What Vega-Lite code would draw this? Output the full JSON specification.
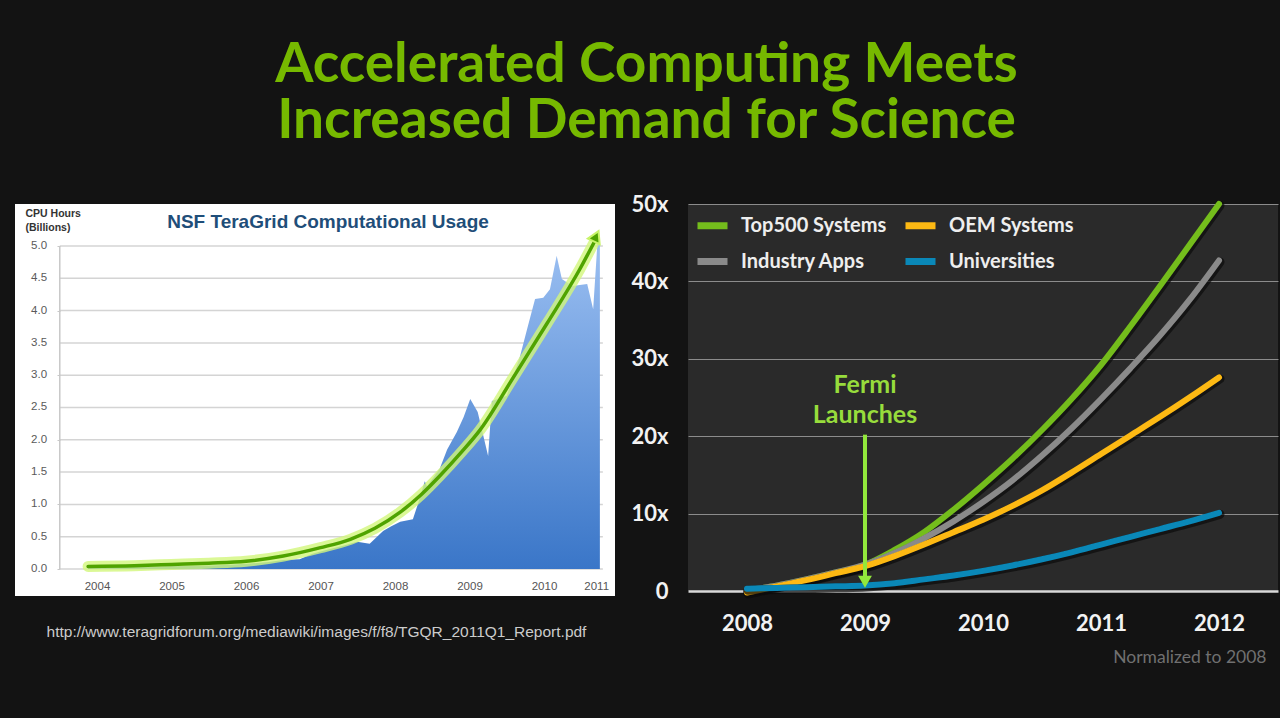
{
  "$schema": "https://vega.github.io/schema/vega-lite/v6.json",
  "background": "#131313",
  "padding": {"left": 15, "top": 37, "right": 2, "bottom": 52},
  "title": {
    "text": ["Accelerated Computing Meets", "Increased Demand for Science"],
    "font": "Lato",
    "fontSize": 55,
    "fontWeight": "bold",
    "color": "#76b900",
    "lineHeight": 56,
    "anchor": "middle",
    "frame": "bounds",
    "offset": 38
  },
  "config": {"view": {"stroke": null}, "font": "Lato", "axis": {"labelOverlap": false}},
  "resolve": {"scale": {"color": "independent"}, "legend": {"color": "independent"}},
  "spacing": 73,
  "bounds": "flush",
  "datasets": {
    "usage": [
      {"year": 2004.38, "cpu": 0.02}, {"year": 2004.7, "cpu": 0.03}, {"year": 2005.0, "cpu": 0.03},
      {"year": 2005.3, "cpu": 0.04}, {"year": 2005.6, "cpu": 0.05}, {"year": 2005.9, "cpu": 0.05},
      {"year": 2006.2, "cpu": 0.06}, {"year": 2006.5, "cpu": 0.08}, {"year": 2006.8, "cpu": 0.11},
      {"year": 2007.0, "cpu": 0.14}, {"year": 2007.22, "cpu": 0.15}, {"year": 2007.4, "cpu": 0.24},
      {"year": 2007.6, "cpu": 0.3}, {"year": 2007.8, "cpu": 0.36}, {"year": 2007.99, "cpu": 0.42},
      {"year": 2008.16, "cpu": 0.39}, {"year": 2008.34, "cpu": 0.59}, {"year": 2008.45, "cpu": 0.66},
      {"year": 2008.57, "cpu": 0.73}, {"year": 2008.74, "cpu": 0.77}, {"year": 2008.8, "cpu": 0.98},
      {"year": 2008.9, "cpu": 1.36}, {"year": 2008.93, "cpu": 1.28}, {"year": 2009.1, "cpu": 1.55},
      {"year": 2009.2, "cpu": 1.85}, {"year": 2009.33, "cpu": 2.12}, {"year": 2009.42, "cpu": 2.35},
      {"year": 2009.51, "cpu": 2.63}, {"year": 2009.61, "cpu": 2.43}, {"year": 2009.75, "cpu": 1.75},
      {"year": 2009.8, "cpu": 2.6}, {"year": 2010.0, "cpu": 2.68}, {"year": 2010.18, "cpu": 3.3},
      {"year": 2010.27, "cpu": 3.7}, {"year": 2010.38, "cpu": 4.18}, {"year": 2010.49, "cpu": 4.2},
      {"year": 2010.58, "cpu": 4.33}, {"year": 2010.67, "cpu": 4.85}, {"year": 2010.74, "cpu": 4.49},
      {"year": 2010.88, "cpu": 4.38}, {"year": 2011.08, "cpu": 4.41}, {"year": 2011.16, "cpu": 4.02},
      {"year": 2011.22, "cpu": 5.1}, {"year": 2011.25, "cpu": 5.1}
    ],
    "trend": [
      {"year": 2004.38, "value": 0.04}, {"year": 2005.0, "value": 0.05}, {"year": 2005.5, "value": 0.07},
      {"year": 2006.0, "value": 0.09}, {"year": 2006.5, "value": 0.12}, {"year": 2007.0, "value": 0.2},
      {"year": 2007.5, "value": 0.33}, {"year": 2007.9, "value": 0.46}, {"year": 2008.23, "value": 0.63},
      {"year": 2008.57, "value": 0.88}, {"year": 2008.85, "value": 1.15}, {"year": 2009.1, "value": 1.44},
      {"year": 2009.4, "value": 1.82}, {"year": 2009.64, "value": 2.15}, {"year": 2010.08, "value": 2.95},
      {"year": 2010.54, "value": 3.8}, {"year": 2010.98, "value": 4.64}, {"year": 2011.17, "value": 5.05}
    ],
    "trendTip": [{"year": 2011.2, "value": 5.15}],
    "usageTicks": [
      {"v": 0.0}, {"v": 0.5}, {"v": 1.0}, {"v": 1.5}, {"v": 2.0}, {"v": 2.5},
      {"v": 3.0}, {"v": 3.5}, {"v": 4.0}, {"v": 4.5}, {"v": 5.0}
    ],
    "growth": [
      {"series": "Top500 Systems", "year": 2008, "x": 0.1}, {"series": "Top500 Systems", "year": 2008.25, "x": 0.7},
      {"series": "Top500 Systems", "year": 2008.5, "x": 1.5}, {"series": "Top500 Systems", "year": 2008.75, "x": 2.4},
      {"series": "Top500 Systems", "year": 2009, "x": 3.4}, {"series": "Top500 Systems", "year": 2009.25, "x": 5.3},
      {"series": "Top500 Systems", "year": 2009.5, "x": 7.6}, {"series": "Top500 Systems", "year": 2009.75, "x": 10.5},
      {"series": "Top500 Systems", "year": 2010, "x": 13.7}, {"series": "Top500 Systems", "year": 2010.25, "x": 17.1},
      {"series": "Top500 Systems", "year": 2010.5, "x": 20.8}, {"series": "Top500 Systems", "year": 2010.75, "x": 24.8},
      {"series": "Top500 Systems", "year": 2011, "x": 29.2}, {"series": "Top500 Systems", "year": 2011.25, "x": 34.2},
      {"series": "Top500 Systems", "year": 2011.5, "x": 39.4}, {"series": "Top500 Systems", "year": 2011.75, "x": 44.7},
      {"series": "Top500 Systems", "year": 2012, "x": 50.0},
      {"series": "Industry Apps", "year": 2008, "x": 0.1}, {"series": "Industry Apps", "year": 2008.25, "x": 0.7},
      {"series": "Industry Apps", "year": 2008.5, "x": 1.5}, {"series": "Industry Apps", "year": 2008.75, "x": 2.4},
      {"series": "Industry Apps", "year": 2009, "x": 3.4}, {"series": "Industry Apps", "year": 2009.25, "x": 4.9},
      {"series": "Industry Apps", "year": 2009.5, "x": 6.8}, {"series": "Industry Apps", "year": 2009.75, "x": 9.0},
      {"series": "Industry Apps", "year": 2010, "x": 11.5}, {"series": "Industry Apps", "year": 2010.25, "x": 14.3},
      {"series": "Industry Apps", "year": 2010.5, "x": 17.5}, {"series": "Industry Apps", "year": 2010.75, "x": 21.0},
      {"series": "Industry Apps", "year": 2011, "x": 24.8}, {"series": "Industry Apps", "year": 2011.25, "x": 28.8},
      {"series": "Industry Apps", "year": 2011.5, "x": 33.0}, {"series": "Industry Apps", "year": 2011.75, "x": 37.6},
      {"series": "Industry Apps", "year": 2012, "x": 42.7},
      {"series": "OEM Systems", "year": 2008, "x": -0.2}, {"series": "OEM Systems", "year": 2008.25, "x": 0.6},
      {"series": "OEM Systems", "year": 2008.5, "x": 1.4}, {"series": "OEM Systems", "year": 2008.75, "x": 2.3},
      {"series": "OEM Systems", "year": 2009, "x": 3.2}, {"series": "OEM Systems", "year": 2009.25, "x": 4.5},
      {"series": "OEM Systems", "year": 2009.5, "x": 6.0}, {"series": "OEM Systems", "year": 2009.75, "x": 7.6},
      {"series": "OEM Systems", "year": 2010, "x": 9.2}, {"series": "OEM Systems", "year": 2010.25, "x": 11.0},
      {"series": "OEM Systems", "year": 2010.5, "x": 13.0}, {"series": "OEM Systems", "year": 2010.75, "x": 15.3},
      {"series": "OEM Systems", "year": 2011, "x": 17.7}, {"series": "OEM Systems", "year": 2011.25, "x": 20.1},
      {"series": "OEM Systems", "year": 2011.5, "x": 22.5}, {"series": "OEM Systems", "year": 2011.75, "x": 25.0},
      {"series": "OEM Systems", "year": 2012, "x": 27.6},
      {"series": "Universities", "year": 2008, "x": 0.3}, {"series": "Universities", "year": 2008.25, "x": 0.4},
      {"series": "Universities", "year": 2008.5, "x": 0.5}, {"series": "Universities", "year": 2008.75, "x": 0.6},
      {"series": "Universities", "year": 2009, "x": 0.7}, {"series": "Universities", "year": 2009.25, "x": 1.0},
      {"series": "Universities", "year": 2009.5, "x": 1.5}, {"series": "Universities", "year": 2009.75, "x": 2.0},
      {"series": "Universities", "year": 2010, "x": 2.6}, {"series": "Universities", "year": 2010.25, "x": 3.3},
      {"series": "Universities", "year": 2010.5, "x": 4.1}, {"series": "Universities", "year": 2010.75, "x": 5.0},
      {"series": "Universities", "year": 2011, "x": 6.0}, {"series": "Universities", "year": 2011.25, "x": 7.0},
      {"series": "Universities", "year": 2011.5, "x": 8.0}, {"series": "Universities", "year": 2011.75, "x": 9.0},
      {"series": "Universities", "year": 2012, "x": 10.1}
    ],
    "fermi": [{"year": 2009, "top": 20.2, "bottom": 1.8, "tip": 1.2}],
    "fermiText": [
      {"year": 2009, "level": 26.6, "label": "Fermi"},
      {"year": 2009, "level": 22.7, "label": "Launches"}
    ]
  },
  "hconcat": [
    {
      "width": 600,
      "height": 392,
      "view": {"fill": "#ffffff", "stroke": null},
      "title": {
        "text": "NSF TeraGrid Computational Usage",
        "font": "Liberation Sans",
        "fontSize": 19,
        "fontWeight": "bold",
        "color": "#1f4e79",
        "anchor": "middle",
        "frame": "group",
        "baseline": "alphabetic",
        "offset": -23,
        "dx": 13,
        "dy": 20
      },
      "layer": [
        {
          "data": {"name": "usageTicks"},
          "mark": {"type": "rule", "color": "#d4d4d4", "strokeWidth": 1.5},
          "encoding": {
            "x": {"datum": 2004.0, "type": "quantitative"},
            "x2": {"datum": 2011.29},
            "y": {"field": "v", "type": "quantitative"}
          }
        },
        {
          "data": {"name": "usageTicks"},
          "mark": {"type": "text", "align": "right", "baseline": "middle", "font": "Liberation Sans", "fontSize": 11.5, "color": "#5a5a5a"},
          "encoding": {
            "x": {"datum": 2003.83, "type": "quantitative"},
            "y": {"field": "v", "type": "quantitative"},
            "text": {"field": "v", "type": "quantitative", "format": ".1f"}
          }
        },
        {
          "data": {"values": [{}]},
          "mark": {"type": "rule", "color": "#c8c8c8", "strokeWidth": 1.5},
          "encoding": {
            "x": {"datum": 2004.0, "type": "quantitative"},
            "y": {"datum": 0, "type": "quantitative"},
            "y2": {"datum": 5.0}
          }
        },
        {
          "data": {"name": "usage"},
          "mark": {
            "type": "area",
            "interpolate": "linear",
            "fill": {
              "gradient": "linear",
              "x1": 0, "y1": 0, "x2": 0, "y2": 1,
              "stops": [
                {"offset": 0, "color": "#9cc0f2"},
                {"offset": 1, "color": "#3a76c8"}
              ]
            }
          },
          "encoding": {
            "x": {
              "field": "year",
              "type": "quantitative",
              "scale": {"domain": [2003.399, 2011.453], "nice": false, "zero": false},
              "axis": {
                "orient": "bottom",
                "offset": -27,
                "values": [2004.5, 2005.5, 2006.5, 2007.5, 2008.5, 2009.5, 2010.5, 2011.2],
                "labelExpr": "'' + floor(datum.value)",
                "labelFlush": false,
                "labelOverlap": false,
                "domain": false,
                "ticks": false,
                "grid": false,
                "labelFont": "Liberation Sans",
                "labelFontSize": 11.5,
                "labelColor": "#555555",
                "labelPadding": 11,
                "title": "http://www.teragridforum.org/mediawiki/images/f/f8/TGQR_2011Q1_Report.pdf",
                "titleX": 301,
                "titleY": 62,
                "titleAlign": "center",
                "titleBaseline": "middle",
                "titleFont": "Liberation Sans",
                "titleFontSize": 15.5,
                "titleFontWeight": "normal",
                "titleColor": "#cccccc"
              }
            },
            "y": {
              "field": "cpu",
              "type": "quantitative",
              "scale": {"domain": [-0.418, 5.65], "nice": false, "zero": false},
              "axis": {
                "orient": "left",
                "offset": -45,
                "values": [0, 0.5, 1, 1.5, 2, 2.5, 3, 3.5, 4, 4.5, 5],
                "labels": false,
                "domain": false,
                "ticks": true,
                "tickSize": 3,
                "tickColor": "#c8c8c8",
                "grid": false,
                "title": ["CPU Hours", "(Billions)"],
                "titleAngle": 0,
                "titleAlign": "left",
                "titleBaseline": "top",
                "titleX": -35,
                "titleY": 4,
                "titleFont": "Liberation Sans",
                "titleFontSize": 10.5,
                "titleFontWeight": "bold",
                "titleColor": "#333333",
                "titleLineHeight": 14
              }
            }
          }
        },
        {
          "data": {"name": "trend"},
          "mark": {"type": "line", "color": "#d2f67c", "opacity": 0.8, "strokeWidth": 11, "interpolate": "monotone", "strokeCap": "round"},
          "encoding": {
            "x": {"field": "year", "type": "quantitative"},
            "y": {"field": "value", "type": "quantitative"}
          }
        },
        {
          "data": {"name": "trend"},
          "mark": {"type": "line", "color": "#4fa300", "strokeWidth": 3.5, "interpolate": "monotone", "strokeCap": "round"},
          "encoding": {
            "x": {"field": "year", "type": "quantitative"},
            "y": {"field": "value", "type": "quantitative"}
          }
        },
        {
          "data": {"name": "trendTip"},
          "mark": {"type": "point", "shape": "triangle-up", "angle": 25, "size": 170, "filled": true, "color": "#4fa300", "stroke": "#c8f46a", "strokeWidth": 2, "opacity": 1},
          "encoding": {
            "x": {"field": "year", "type": "quantitative"},
            "y": {"field": "value", "type": "quantitative"}
          }
        }
      ]
    },
    {
      "width": 590,
      "height": 387,
      "view": {"fill": "#2a2a2a", "stroke": null},
      "encoding": {
        "x": {
          "field": "year",
          "type": "quantitative",
          "scale": {"domain": [2007.5, 2012.5], "nice": false, "zero": false},
          "axis": {
            "orient": "bottom",
            "values": [2008, 2009, 2010, 2011, 2012],
            "format": "d",
            "domain": false,
            "ticks": false,
            "grid": false,
            "labelFont": "Lato",
            "labelFontSize": 22,
            "labelFontWeight": "bold",
            "labelColor": "#f2f2f2",
            "labelPadding": 22,
            "title": "Normalized to 2008",
            "titleX": 578,
            "titleY": 66,
            "titleAlign": "right",
            "titleBaseline": "middle",
            "titleFont": "Lato",
            "titleFontSize": 17.5,
            "titleFontWeight": "normal",
            "titleColor": "#707070"
          }
        }
      },
      "layer": [
        {
          "data": {"name": "growth"},
          "transform": [{"filter": "datum.series === 'Top500 Systems'"}],
          "mark": {"type": "line", "color": "#0c0c0c", "opacity": 0.7, "strokeWidth": 9, "interpolate": "monotone", "strokeCap": "round", "xOffset": 1, "yOffset": 1.5},
          "encoding": {
            "y": {
              "field": "x",
              "type": "quantitative",
              "scale": {"domain": [0, 50], "nice": false},
              "axis": {
                "orient": "left",
                "values": [0, 10, 20, 30, 40, 50],
                "labelExpr": "datum.value == 0 ? '0' : datum.value + 'x'",
                "domain": false,
                "ticks": false,
                "grid": true,
                "gridColor": {"condition": {"test": "datum.value === 0", "value": "#d8d8d8"}, "value": "#8c8c8c"},
                "gridWidth": {"condition": {"test": "datum.value === 0", "value": 2.5}, "value": 1},
                "labelFont": "Lato",
                "labelFontSize": 22,
                "labelFontWeight": "bold",
                "labelColor": "#f2f2f2",
                "labelPadding": 20,
                "title": null
              }
            }
          }
        },
        {
          "data": {"name": "growth"},
          "transform": [{"filter": "datum.series === 'Top500 Systems'"}],
          "mark": {"type": "line", "strokeWidth": 6, "interpolate": "monotone", "strokeCap": "round"},
          "encoding": {
            "y": {"field": "x", "type": "quantitative"},
            "color": {
              "field": "series",
              "type": "nominal",
              "scale": {
                "domain": ["Top500 Systems", "OEM Systems", "Industry Apps", "Universities"],
                "range": ["#74bd1c", "#fdb913", "#8a8a8a", "#0a88b8"]
              },
              "legend": {
                "orient": "none",
                "legendX": 6,
                "legendY": 3,
                "direction": "horizontal",
                "columns": 2,
                "title": null,
                "symbolType": "stroke",
                "symbolSize": 900,
                "symbolStrokeWidth": 7,
                "labelFont": "Lato",
                "labelFontSize": 20,
                "labelFontWeight": "bold",
                "labelColor": "#eeeeee",
                "labelOffset": 10,
                "labelLimit": 300,
                "rowPadding": 3,
                "columnPadding": 4
              }
            }
          }
        },
        {
          "data": {"name": "growth"},
          "transform": [{"filter": "datum.series === 'Industry Apps'"}],
          "mark": {"type": "line", "color": "#0c0c0c", "opacity": 0.7, "strokeWidth": 9, "interpolate": "monotone", "strokeCap": "round", "xOffset": 1, "yOffset": 1.5},
          "encoding": {"y": {"field": "x", "type": "quantitative"}}
        },
        {
          "data": {"name": "growth"},
          "transform": [{"filter": "datum.series === 'Industry Apps'"}],
          "mark": {"type": "line", "strokeWidth": 6, "interpolate": "monotone", "strokeCap": "round"},
          "encoding": {
            "y": {"field": "x", "type": "quantitative"},
            "color": {"field": "series", "type": "nominal"}
          }
        },
        {
          "data": {"name": "growth"},
          "transform": [{"filter": "datum.series === 'OEM Systems'"}],
          "mark": {"type": "line", "color": "#0c0c0c", "opacity": 0.7, "strokeWidth": 9, "interpolate": "monotone", "strokeCap": "round", "xOffset": 1, "yOffset": 1.5},
          "encoding": {"y": {"field": "x", "type": "quantitative"}}
        },
        {
          "data": {"name": "growth"},
          "transform": [{"filter": "datum.series === 'OEM Systems'"}],
          "mark": {"type": "line", "strokeWidth": 6, "interpolate": "monotone", "strokeCap": "round"},
          "encoding": {
            "y": {"field": "x", "type": "quantitative"},
            "color": {"field": "series", "type": "nominal"}
          }
        },
        {
          "data": {"name": "growth"},
          "transform": [{"filter": "datum.series === 'Universities'"}],
          "mark": {"type": "line", "color": "#0c0c0c", "opacity": 0.7, "strokeWidth": 9, "interpolate": "monotone", "strokeCap": "round", "xOffset": 1, "yOffset": 1.5},
          "encoding": {"y": {"field": "x", "type": "quantitative"}}
        },
        {
          "data": {"name": "growth"},
          "transform": [{"filter": "datum.series === 'Universities'"}],
          "mark": {"type": "line", "strokeWidth": 6, "interpolate": "monotone", "strokeCap": "round"},
          "encoding": {
            "y": {"field": "x", "type": "quantitative"},
            "color": {"field": "series", "type": "nominal"}
          }
        },
        {
          "data": {"name": "fermi"},
          "mark": {"type": "rule", "color": "#92e83c", "strokeWidth": 4},
          "encoding": {
            "y": {"field": "top", "type": "quantitative"},
            "y2": {"field": "bottom"}
          }
        },
        {
          "data": {"name": "fermi"},
          "mark": {"type": "point", "shape": "triangle-down", "size": 190, "filled": true, "color": "#92e83c", "opacity": 1},
          "encoding": {
            "y": {"field": "tip", "type": "quantitative"}
          }
        },
        {
          "data": {"name": "fermiText"},
          "mark": {"type": "text", "font": "Lato", "fontSize": 25, "fontWeight": "bold", "color": "#97dc3c", "align": "center", "baseline": "middle"},
          "encoding": {
            "y": {"field": "level", "type": "quantitative"},
            "text": {"field": "label"}
          }
        }
      ]
    }
  ]
}
